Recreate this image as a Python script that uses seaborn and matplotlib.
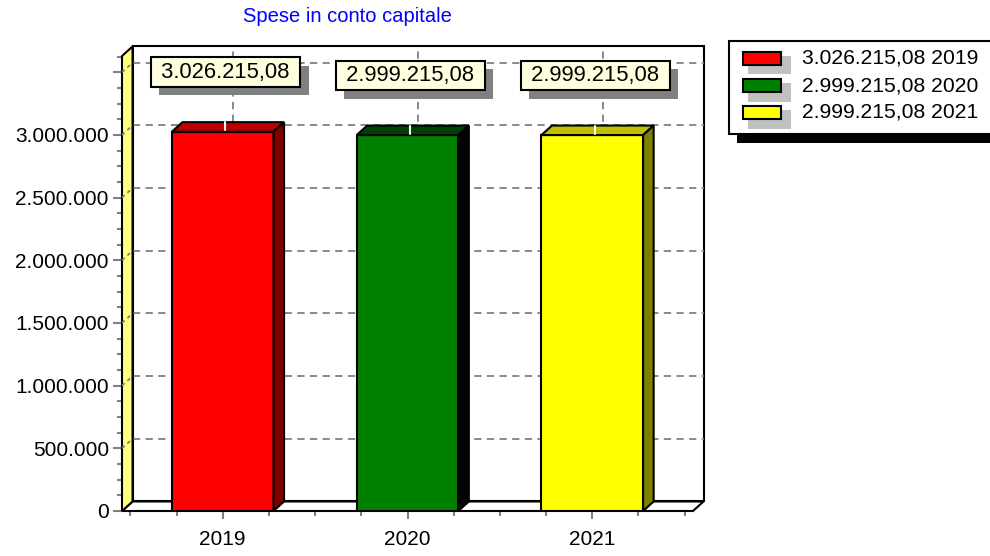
import numpy as np
import matplotlib
matplotlib.use('Agg')
import matplotlib.pyplot as plt
import matplotlib.patheffects as pe
import seaborn as sns
import pandas as pd
from matplotlib.patches import Polygon, Rectangle
from matplotlib.ticker import MultipleLocator, FixedLocator, FuncFormatter

# ==========================================
# DATI
# ==========================================
anni = ['2019', '2020', '2021']
valori = [3026215.08, 2999215.08, 2999215.08]
etichette = ['3.026.215,08', '2.999.215,08', '2.999.215,08']
voci_legenda = ['3.026.215,08 2019', '2.999.215,08 2020', '2.999.215,08 2021']
titolo = 'Spese in conto capitale'

col_fronte = ['#FF0000', '#008000', '#FFFF00']
col_sopra = ['#C00000', '#004000', '#C0C000']
col_lato = ['#800000', '#000000', '#808000']

sns.set_style('white')
plt.rcParams['font.family'] = ['Liberation Sans', 'DejaVu Sans']
plt.rcParams['text.color'] = 'black'

W, H = 990, 556
fig = plt.figure(figsize=(W / 100, H / 100), dpi=100)

def fx(px):
    return px / W

def fy(py):
    return 1 - py / H

ax = fig.add_axes([fx(122), fy(511), fx(693) - fx(122), fy(56) - fy(511)])
ax.patch.set_visible(False)

df = pd.DataFrame({'anno': anni, 'valore': valori})
sns.barplot(data=df, x='anno', y='valore', hue='anno', palette=col_fronte,
            saturation=1, width=0.55, edgecolor='black', linewidth=1.5,
            legend=False, ax=ax, zorder=3)
bars = list(ax.patches)

X0, X1 = -0.545, 2.545
YMAX = 3630000
DX, DY = 0.057, 76000   # profondita' 3D
ax.set_xlim(X0, X1)
ax.set_ylim(0, YMAX)
for s in ax.spines.values():
    s.set_visible(False)

GRIGIO = '#808080'

# --- pareti ---
ax.add_patch(Rectangle((X0 + DX, DY), X1 - X0, YMAX, fc='white', ec='black',
                       lw=1.5, clip_on=False, zorder=0.5))
for g in np.arange(500000, 3500001, 500000):
    ax.plot([X0 + DX, X1 + DX], [g + DY, g + DY], color=GRIGIO, ls=(0, (4, 3)),
            lw=1.3, clip_on=False, zorder=0.8)
    ax.plot([X0, X0 + DX], [g, g + DY], color=GRIGIO, ls=(0, (2, 2)),
            lw=1.3, clip_on=False, zorder=1.2)
for i in range(len(anni)):
    ax.plot([i + DX, i + DX], [DY, YMAX + DY], color=GRIGIO, ls=(0, (4, 3)),
            lw=1.3, clip_on=False, zorder=0.8)
ax.add_patch(Polygon([(X0, 0), (X1, 0), (X1 + DX, DY), (X0 + DX, DY)],
                     fc='white', ec='black', lw=1.5, clip_on=False, zorder=1))
ax.add_patch(Polygon([(X0, 0), (X0 + DX, DY), (X0 + DX, YMAX + DY), (X0, YMAX)],
                     fc='#FFFF80', ec='black', lw=1.5, clip_on=False, zorder=1.1))

# --- facce 3D delle barre ---
for i, p in enumerate(bars):
    x0 = p.get_x()
    x1 = x0 + p.get_width()
    h = p.get_height()
    ax.add_patch(Polygon([(x0, h), (x1, h), (x1 + DX, h + DY), (x0 + DX, h + DY)],
                         fc=col_sopra[i], ec='black', lw=1.5, clip_on=False, zorder=3))
    ax.add_patch(Polygon([(x1, 0), (x1 + DX, DY), (x1 + DX, h + DY), (x1, h)],
                         fc=col_lato[i], ec='black', lw=1.5, clip_on=False, zorder=3))
    ax.plot([i + 0.015, i + 0.015], [h + DY * 0.15, h + DY * 1.0], color='white',
            lw=1.5, zorder=3.5, clip_on=False)

# --- etichette valori (con ombra) ---
for i, v in enumerate(valori):
    t = ax.text(i + 0.015, v + 475000, ' ' + etichette[i] + ' ', ha='center',
                va='center', fontsize=15.8, color='black', zorder=5, clip_on=False,
                bbox=dict(boxstyle='square,pad=0.2', fc='#FFFFE0', ec='black', lw=1.5))
    t.get_bbox_patch().set_path_effects([
        pe.SimplePatchShadow(offset=(6, -6), shadow_rgbFace=GRIGIO, alpha=1),
        pe.Normal()])

# --- assi ---
ax.yaxis.set_major_locator(MultipleLocator(500000))
ax.yaxis.set_minor_locator(MultipleLocator(125000))
ax.yaxis.set_major_formatter(FuncFormatter(
    lambda v, _: '' if v > 3200000 else f'{int(round(v)):,}'.replace(',', '.')))
ax.tick_params(axis='y', which='major', left=True, length=6.5, width=1.5,
               color=GRIGIO, labelsize=15, labelcolor='black', pad=3)
ax.tick_params(axis='y', which='minor', left=True, length=3.5, width=1.5, color=GRIGIO)
minori = [t for t in np.arange(-0.5, 2.51, 0.25) if abs(t - round(t)) > 0.01]
ax.xaxis.set_minor_locator(FixedLocator(minori))
ax.tick_params(axis='x', which='major', bottom=True, length=6, width=1.5,
               color=GRIGIO, labelsize=15, labelcolor='black', pad=7.5)
ax.tick_params(axis='x', which='minor', bottom=True, length=3.5, width=1.5, color=GRIGIO)
ax.set_xlabel('')
ax.set_ylabel('')

# --- titolo ---
fig.text(fx(347), fy(17), titolo, color='#0000FF', fontsize=14.5,
         ha='center', va='center')

# --- legenda ---
fig.add_artist(Rectangle((fx(737), fy(143)), fx(300), (143 - 50) / H, fc='black',
                         ec='none', transform=fig.transFigure))
fig.add_artist(Rectangle((fx(729), fy(134)), fx(300), (134 - 41) / H, fc='white',
                         ec='black', lw=1.5, transform=fig.transFigure))
for k, voce in enumerate(voci_legenda):
    c = 58.5 + 27 * k
    fig.add_artist(Rectangle((fx(748), fy(c + 16)), fx(43), 18 / H, fc='#C0C0C0',
                             ec='none', transform=fig.transFigure))
    fig.add_artist(Rectangle((fx(743), fy(c + 6.5)), fx(38), 13 / H, fc=col_fronte[k],
                             ec='black', lw=1.5, transform=fig.transFigure))
    fig.text(fx(802), fy(c), voce, fontsize=15.2, color='black', ha='left', va='center')

fig.savefig('out.png', dpi=100)
